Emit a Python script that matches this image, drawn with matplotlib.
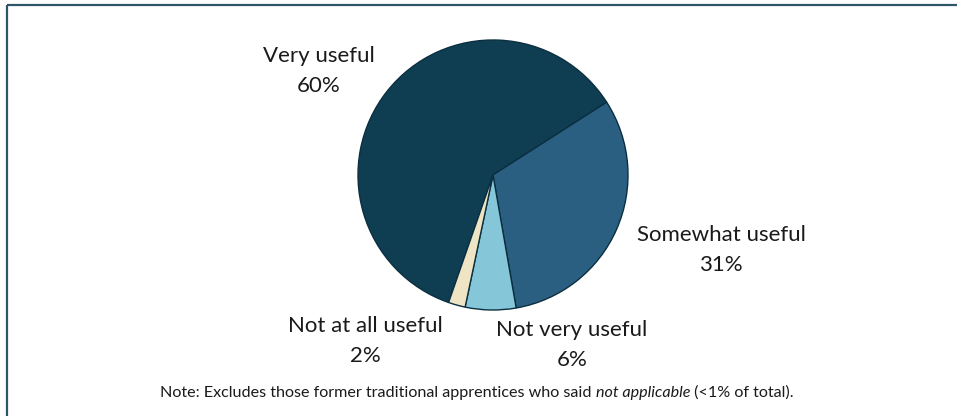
import matplotlib.pyplot as plt

labels = ["Very useful", "Somewhat useful", "Not very useful", "Not at all useful"]
shares = [60, 31, 6, 2]
colors = ["#0f3d52", "#2b5f82", "#85c7d8", "#efe5c4"]

W, H = 957, 416
fig = plt.figure(figsize=(W / 100, H / 100), dpi=100)
ax = fig.add_axes([0, 0, 1, 1])

# pie in pixel coordinates (y measured from the bottom);
# "Very useful" runs clockwise and ends where "Somewhat useful" begins
cx, cy, r = 493, H - 175, 135
ax.pie(shares, colors=colors, startangle=250.8, counterclock=False,
       center=(cx, cy), radius=r, frame=True,
       wedgeprops=dict(edgecolor="#0b2f40", linewidth=1.0))
ax.set_xlim(0, W)
ax.set_ylim(0, H)
ax.axis("off")

font = "Lato"
label_pos = [(319, 71), (721, 250), (572, 345), (365, 341)]
for name, val, (x, y) in zip(labels, shares, label_pos):
    ax.text(x, H - y, f"{name}\n{val}%", ha="center", va="center",
            fontsize=16, family=font, linespacing=1.6, color="#1a1a1a")

# note line with italic fragment
ax.text(160, H - 393, "Note: Excludes those former traditional apprentices who said ",
        ha="left", va="center", fontsize=11.6, family=font, color="#1a1a1a")
fig.canvas.draw()
renderer = fig.canvas.get_renderer()
t1 = ax.texts[-1]
bb = t1.get_window_extent(renderer)
t2 = ax.text(bb.x1, H - 393, "not applicable", ha="left", va="center",
             fontsize=11.6, family=font, style="italic", color="#1a1a1a")
bb2 = t2.get_window_extent(renderer)
ax.text(bb2.x1, H - 393, " (<1% of total).", ha="left", va="center",
        fontsize=11.6, family=font, color="#1a1a1a")

# frame: top and left rules
ax.plot([7, W], [H - 5, H - 5], color="#2e5668", linewidth=1.6, solid_capstyle="butt")
ax.plot([7, 7], [H - 5, 0], color="#2e5668", linewidth=1.6, solid_capstyle="butt")

fig.savefig("out.png", dpi=100)
